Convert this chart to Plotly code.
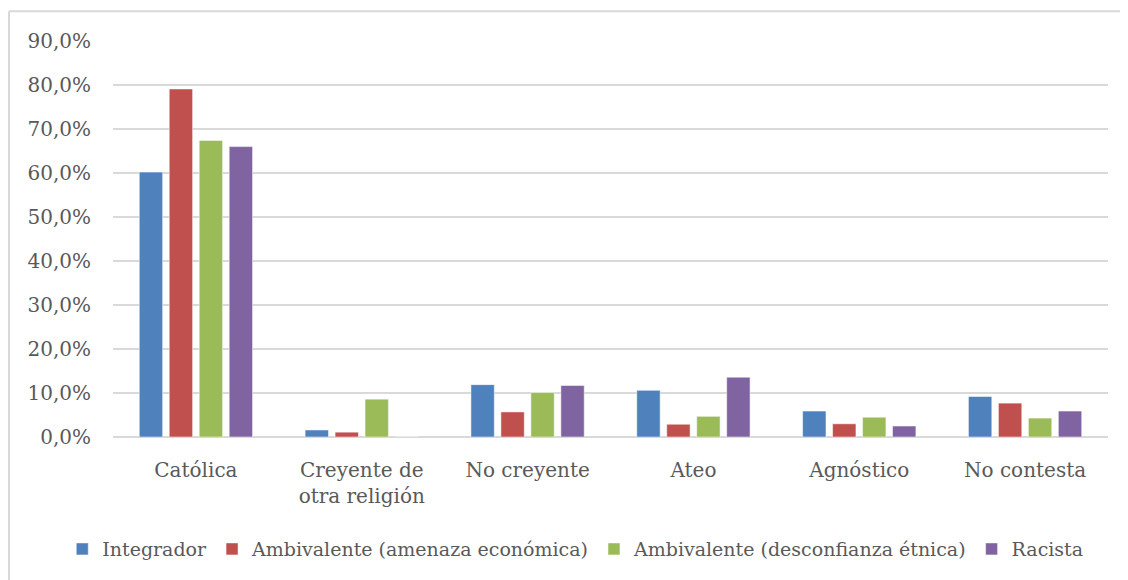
import plotly.graph_objects as go

categorias = ["Católica", "Creyente de<br>otra religión", "No creyente", "Ateo", "Agnóstico", "No contesta"]
series = ["Integrador", "Ambivalente (amenaza económica)", "Ambivalente (desconfianza étnica)", "Racista"]
integrador = [60.2, 1.6, 11.9, 10.6, 5.9, 9.2]
amenaza_economica = [79.1, 1.1, 5.7, 2.9, 3.0, 7.7]
desconfianza_etnica = [67.4, 8.6, 10.1, 4.7, 4.5, 4.3]
racista = [66.0, 0.0, 11.7, 13.6, 2.5, 5.9]
colores = ["#4F81BD", "#C0504D", "#9BBB59", "#8064A2"]

fig = go.Figure()
for nombre, valores, color in zip(series, [integrador, amenaza_economica, desconfianza_etnica, racista], colores):
    fig.add_trace(go.Bar(x=categorias, y=valores, name=nombre,
                         marker=dict(color=color, line=dict(color="rgba(255,255,255,0.5)", width=1))))

texto = dict(family="DejaVu Serif", size=20, color="#595959")
# la página tiene 8px de margen en body: el lienzo se reduce en consecuencia
fig.update_layout(
    width=1120, height=572,
    margin={"l": 105, "r": 20, "t": 33, "b": 140},
    paper_bgcolor="white", plot_bgcolor="white",
    font=texto,
    separators=", ",
    barmode="group", bargap=0.277, bargroupgap=0.22,
    showlegend=True,
    legend=dict(orientation="h", x=-0.051, xanchor="left",
                y=-0.283, yanchor="middle", font=dict(texto, size=19),
                itemwidth=30, tracegroupgap=0),
)
fig.update_yaxes(range=[0, 90], dtick=10, tickformat=".1f", ticksuffix="%",
                 showgrid=True, gridcolor="#D9D9D9", gridwidth=2,
                 zeroline=True, zerolinecolor="#D9D9D9", zerolinewidth=2,
                 showline=False, ticks="", ticklabelstandoff=21, automargin=False)
fig.update_xaxes(showgrid=False, showline=False, ticks="", ticklabelstandoff=19, automargin=False)

# marco exterior del gráfico (solo visible arriba y a la izquierda)
x0 = (1 - 105) / 995
y0 = (432 - 3) / 399
fig.add_shape(type="line", xref="paper", yref="paper", x0=x0, x1=1.1, y0=y0, y1=y0,
              line=dict(color="#D9D9D9", width=2))
fig.add_shape(type="line", xref="paper", yref="paper", x0=x0, x1=x0, y0=y0, y1=-0.4,
              line=dict(color="#D9D9D9", width=2))

fig.write_html("out.html")
